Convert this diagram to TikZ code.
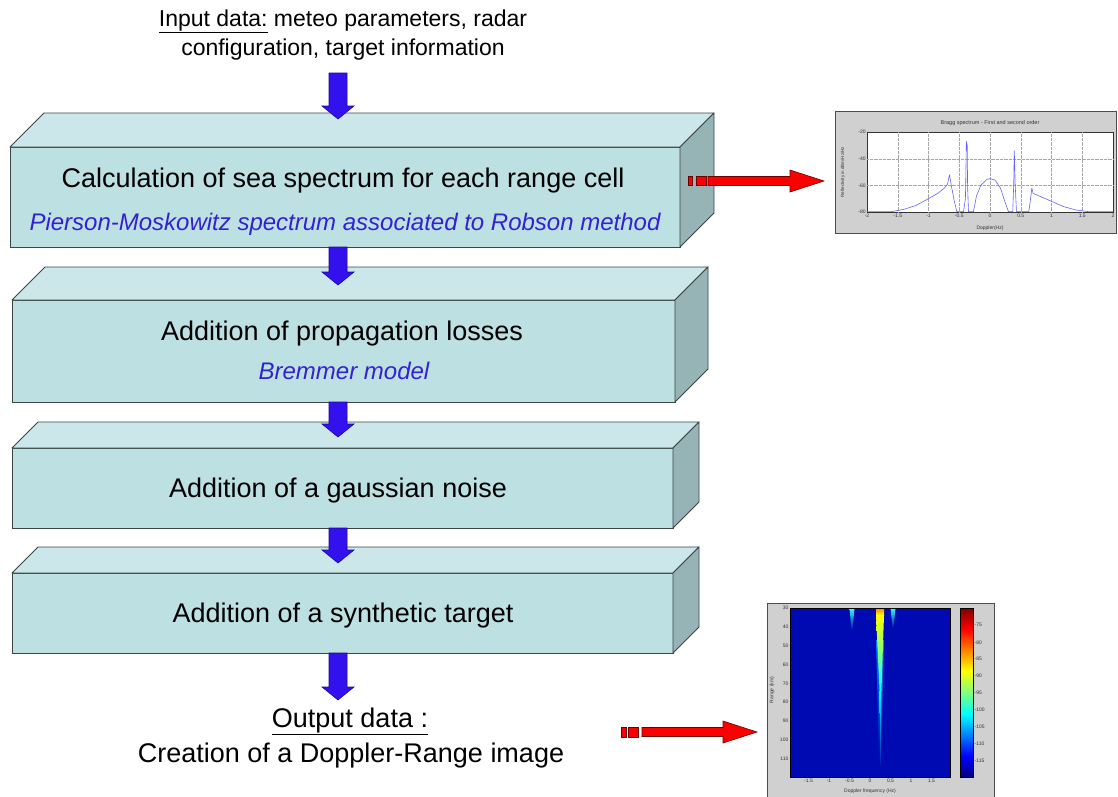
\documentclass[tikz,border=0pt]{standalone}
\usepackage{fontspec}
\setmainfont{Liberation Sans}
\usetikzlibrary{calc}
\definecolor{frontc}{RGB}{189,224,227}
\definecolor{topc}{RGB}{203,231,233}
\definecolor{sidec}{RGB}{150,179,181}
\definecolor{edgec}{RGB}{60,70,70}
\definecolor{arrblue}{RGB}{51,17,238}
\definecolor{arrblueE}{RGB}{25,10,150}
\definecolor{arrred}{RGB}{250,0,0}
\definecolor{arrredE}{RGB}{110,0,0}
\definecolor{subc}{RGB}{51,34,210}
\definecolor{figgray}{RGB}{208,208,208}
\definecolor{jetdb}{RGB}{0,0,128}
\definecolor{jetbg}{RGB}{0,10,178}
\definecolor{curvec}{RGB}{100,100,250}

\newcommand{\cuboid}[6]{%
  \node[front, minimum width=#4pt, minimum height=#5pt] (#1) at (#2,#3) {};
  \filldraw[topface] (#1.north west) -- ++(#6,-#6) -- ($(#1.north east)+(#6,-#6)$) -- (#1.north east) -- cycle;
  \filldraw[sideface] (#1.north east) -- ++(#6,-#6) -- ($(#1.south east)+(#6,-#6)$) -- (#1.south east) -- cycle;}

\newcommand{\vblock}[2]{%
  \filldraw[bluearrow] let \p1=(#1), \p2=(#2) in
  ({\x2-9pt},\y1) -- ({\x2-9pt},{\y2+13pt}) -- ({\x2-16pt},{\y2+13pt}) -- (\x2,\y2)
  -- ({\x2+16pt},{\y2+13pt}) -- ({\x2+9pt},{\y2+13pt}) -- ({\x2+9pt},\y1) -- cycle;}

\newcommand{\hblock}[2]{%
  \filldraw[redarrow] let \p1=(#1), \p2=(#2) in
  (\x1,{\y2+4.5pt}) -- ({\x2-34pt},{\y2+4.5pt}) -- ({\x2-34pt},{\y2+11pt}) -- (\x2,\y2)
  -- ({\x2-34pt},{\y2-11pt}) -- ({\x2-34pt},{\y2-4.5pt}) -- (\x1,{\y2-4.5pt}) -- cycle;}

\begin{document}
\begin{tikzpicture}[x=1pt,y=-1pt,
  front/.style={draw=edgec, fill=frontc, line width=0.9pt, inner sep=0pt, outer sep=0pt, anchor=north west},
  topface/.style={draw=edgec, fill=topc, line width=0.9pt, line join=round},
  sideface/.style={draw=edgec, fill=sidec, line width=0.9pt, line join=round},
  maintext/.style={font=\fontsize{27}{32}\selectfont, anchor=base, inner sep=0pt},
  intext/.style={font=\fontsize{23}{28}\selectfont, anchor=base, inner sep=0pt},
  subtext/.style={font=\fontsize{24}{28}\selectfont\itshape, text=subc, anchor=base, inner sep=0pt},
  bluearrow/.style={fill=arrblue, draw=arrblueE, line width=0.6pt, line join=miter},
  redarrow/.style={fill=arrred, draw=arrredE, line width=0.6pt, line join=miter},
  redsq/.style={fill=arrred, draw=arrredE, line width=0.6pt},
  figframe/.style={draw=black!70, fill=figgray, line width=0.8pt, inner sep=0pt, outer sep=0pt, anchor=north west},
  tiny/.style={font=\fontsize{5}{6}\selectfont, inner sep=0.5pt},
  gridline/.style={draw=black!35, densely dotted, line width=0.3pt}
]
\useasboundingbox (0,0) rectangle (1118,796);
\fill[white] (0,0) rectangle (1118,796);

% input text
\node[intext] (in1) at (343,26) {\underline{Input data:} meteo parameters, radar};
\node[intext] (in2) at (343,55) {configuration, target information};

% boxes
\cuboid{b1}{10}{147}{670}{100}{34}
\cuboid{b2}{12}{300}{663}{102}{33}
\cuboid{b3}{12}{448}{661}{80}{26}
\cuboid{b4}{12}{573}{661}{80}{26}

% texts in boxes
\node[maintext] (t1a) at (343,187) {Calculation of sea spectrum for each range cell};
\node[subtext] (t1b) at (345,230) {Pierson-Moskowitz spectrum associated to Robson method};
\node[maintext] (t2a) at (342,340) {Addition of propagation losses};
\node[subtext] (t2b) at (344,379) {Bremmer model};
\node[maintext] (t3) at (338,497) {Addition of a gaussian noise};
\node[maintext] (t4) at (343,622) {Addition of a synthetic target};
\node[maintext] (o1) at (350,727) {\underline{Output data :}};
\node[maintext] (o2) at (351,762) {Creation of a Doppler-Range image};

% blue arrows
\coordinate (s0) at (338,73);
\coordinate (e0) at (338,119);
\coordinate (e1) at (338,285);
\coordinate (e2) at (338,437);
\coordinate (e3) at (338,563);
\coordinate (e4) at (338,700);
\vblock{s0}{e0}
\vblock{b1.south -| e1}{e1}
\vblock{b2.south -| e2}{e2}
\vblock{b3.south -| e3}{e3}
\vblock{b4.south -| e4}{e4}

% Bragg spectrum figure
\node[figframe, minimum width=281pt, minimum height=122pt] (bragg) at (835,111) {};
\node[draw=black!80, fill=white, line width=0.4pt, inner sep=0pt, outer sep=0pt, anchor=north west,
      minimum width=246pt, minimum height=80pt] (bplot) at (867,132) {};
\node[tiny, font=\fontsize{5.5}{6}\selectfont, text=black!80] (btitle) at (990,123) {Bragg spectrum - First and second order};
\node[tiny, rotate=90, font=\fontsize{4.5}{5}\selectfont, text=black!80] (bylab) at (843,172) {Reflectivity in dBm/Hz/Hz};
\node[tiny, text=black!80] (bxlab) at (990,228) {Doppler(Hz)};
\begin{scope}[shift={(990,212)}, x=61.5pt, y=1.3333pt]
  \foreach \v in {-1.5,-1,-0.5,0,0.5,1,1.5} \draw[gridline] (\v,0) -- (\v,60);
  \foreach \v in {20,40} \draw[gridline] (-2,\v) -- (2,\v);
  \foreach \v in {-2,-1.5,-1,-0.5,0,0.5,1,1.5,2} \node[tiny, anchor=north, text=black!80] at (\v,-1) {\v};
  \foreach \v/\t in {0/-80,20/-60,40/-40,60/-20} \node[tiny, anchor=east, text=black!80] at (-2.01,\v) {\t};
  \draw[curvec, line width=0.6pt, line join=round] plot coordinates {
    (-2,0.3) (-1.6,0.3) (-1.4,2) (-1.2,5) (-1,10) (-0.85,14) (-0.74,18) (-0.69,21) (-0.66,28) (-0.63,20)
    (-0.58,8) (-0.54,0.3) (-0.43,0.3) (-0.40,10) (-0.39,35) (-0.385,53) (-0.37,50) (-0.365,20) (-0.35,0.3)
    (-0.27,0.3) (-0.22,12) (-0.15,20) (-0.05,24.5) (0,25) (0.08,24) (0.17,18) (0.24,8) (0.3,0.3)
    (0.37,0.3) (0.385,20) (0.395,46) (0.41,20) (0.43,0.3) (0.63,0.3) (0.66,10) (0.68,18) (0.7,14)
    (0.8,12) (1,8) (1.2,4) (1.4,1.5) (1.6,0.3) (2,0.3)};
\end{scope}

% Range-Doppler figure
\node[figframe, minimum width=227pt, minimum height=196pt] (rdimg) at (767,603) {};
\fill[jetbg] (790,608) rectangle (950,777);
\shade[top color=cyan!80!white, bottom color=jetbg] (849.5,608) -- (854.5,608) -- (852.5,630) -- (851.5,630) -- cycle;
\shade[top color=cyan!80!white, bottom color=jetbg] (890.5,608) -- (895.5,608) -- (893.5,628) -- (892.5,628) -- cycle;
\shade[top color=cyan!50!blue, bottom color=jetbg] (876,640) -- (884,640) -- (881,760) -- (879,760) -- cycle;
\shade[top color=orange, bottom color=yellow] (876,608) rectangle (884,615);
\shade[top color=yellow, bottom color=cyan] (876,615) -- (884,615) -- (881.5,690) -- (879.5,690) -- cycle;
\shade[top color=cyan, bottom color=jetbg] (879.5,690) -- (881.5,690) -- (880.7,770) -- (880.3,770) -- cycle;
\draw[black, line width=0.4pt] (790,608) rectangle (950,777);
% colorbar
\shade[top color=red!50!black, bottom color=red] (960,608) rectangle (973,629);
\shade[top color=red, bottom color=yellow, middle color=orange] (960,629) rectangle (973,671);
\shade[top color=yellow, bottom color=cyan, middle color={rgb,255:red,128;green,255;blue,128}] (960,671) rectangle (973,714);
\shade[top color=cyan, bottom color=blue, middle color={rgb,255:red,0;green,128;blue,255}] (960,714) rectangle (973,756);
\shade[top color=blue, bottom color=jetdb] (960,756) rectangle (973,777);
\draw[black, line width=0.4pt] (960,608) rectangle (973,777);
\foreach \y/\t in {625/-75,643/-80,659/-85,676/-90,693/-95,710/-100,727/-105,744/-110,761/-115}
  \node[tiny, anchor=west, text=black!80] at (974,\y) {\t};
\foreach \y/\t in {608/30,627/40,646/50,665/60,684/70,702/80,721/90,740/100,759/110}
  \node[tiny, anchor=east, text=black!80] at (789,\y) {\t};
\foreach \x/\t in {808.5/-1.5,829/-1,849.5/-0.5,870/0,890.5/0.5,911/1,931.5/1.5}
  \node[tiny, anchor=north, text=black!80] at (\x,778) {\t};
\node[tiny, text=black!80] (rdxlab) at (870,791) {Doppler frequency (Hz)};
\node[tiny, rotate=90, text=black!80] (rdylab) at (772,690) {Range (km)};

% red arrows
\coordinate (r1s) at (708,181);
\coordinate (r1t) at (824,181);
\coordinate (r2s) at (642,732);
\coordinate (r2t) at (757,732);
\filldraw[redsq] (688,176) rectangle (692,185);
\filldraw[redsq] (696,176) rectangle (706,185);
\hblock{r1s}{r1t}
\filldraw[redsq] (621,727) rectangle (626,737);
\filldraw[redsq] (628,727) rectangle (638,737);
\hblock{r2s}{r2t}
\end{tikzpicture}
\end{document}
